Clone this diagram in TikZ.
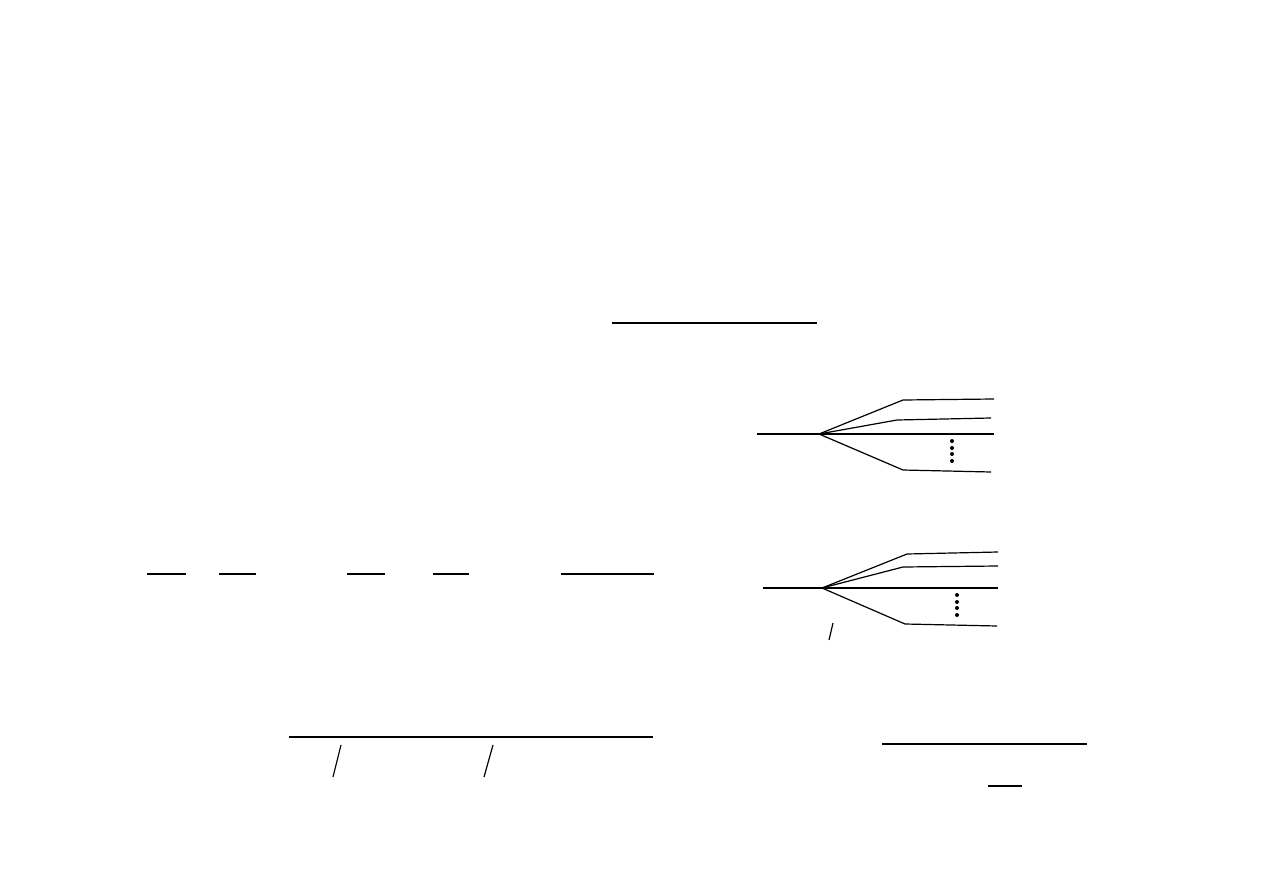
\documentclass[tikz,border=0pt]{standalone}
\begin{document}
\begin{tikzpicture}[x=0.5pt,y=-0.5pt,
  thinln/.style={line width=0.6pt},
  midln/.style={line width=0.8pt},
  thickln/.style={line width=1.1pt},
  dotmark/.style={fill=black,circle,inner sep=0pt,minimum size=2pt}]
\useasboundingbox[fill=white] (0,0) rectangle (1263,893);
% top rule
\draw[midln] (612,323) -- (817,323);
% tree 1
\coordinate (r1) at (819,434);
\draw[thinln] (757,434) -- (r1);
\draw[thinln] (r1) -- (903,400) -- (994,399);
\draw[thinln] (r1) -- (897,420) -- (991,418);
\draw[thinln] (r1) -- (994,434);
\draw[thinln] (r1) -- (903,470) -- (991,472);
\foreach \yy in {441,448,454,461} \node[dotmark] at (952,\yy) {};
% tree 2
\coordinate (r2) at (822,588);
\draw[thinln] (763,588) -- (r2);
\draw[thinln] (r2) -- (907,554) -- (998,552);
\draw[thinln] (r2) -- (903,567) -- (998,566);
\draw[thinln] (r2) -- (998,588);
\draw[thinln] (r2) -- (905,624) -- (997,626);
\foreach \yy in {595,602,608,615} \node[dotmark] at (957,\yy) {};
\draw[thinln] (833,623) -- (829,640);
% row of rules
\draw[thickln] (147,574) -- (186,574);
\draw[thickln] (219,574) -- (256,574);
\draw[thickln] (347,574) -- (385,574);
\draw[thickln] (433,574) -- (469,574);
\draw[thickln] (561,574) -- (654,574);
% bottom left
\draw[thickln] (289,737) -- (653,737);
\draw[thinln] (341,745) -- (333,777);
\draw[thinln] (493,745) -- (484,777);
% bottom right
\draw[midln] (882,744) -- (1087,744);
\draw[midln] (988,786) -- (1022,786);
\end{tikzpicture}
\end{document}
